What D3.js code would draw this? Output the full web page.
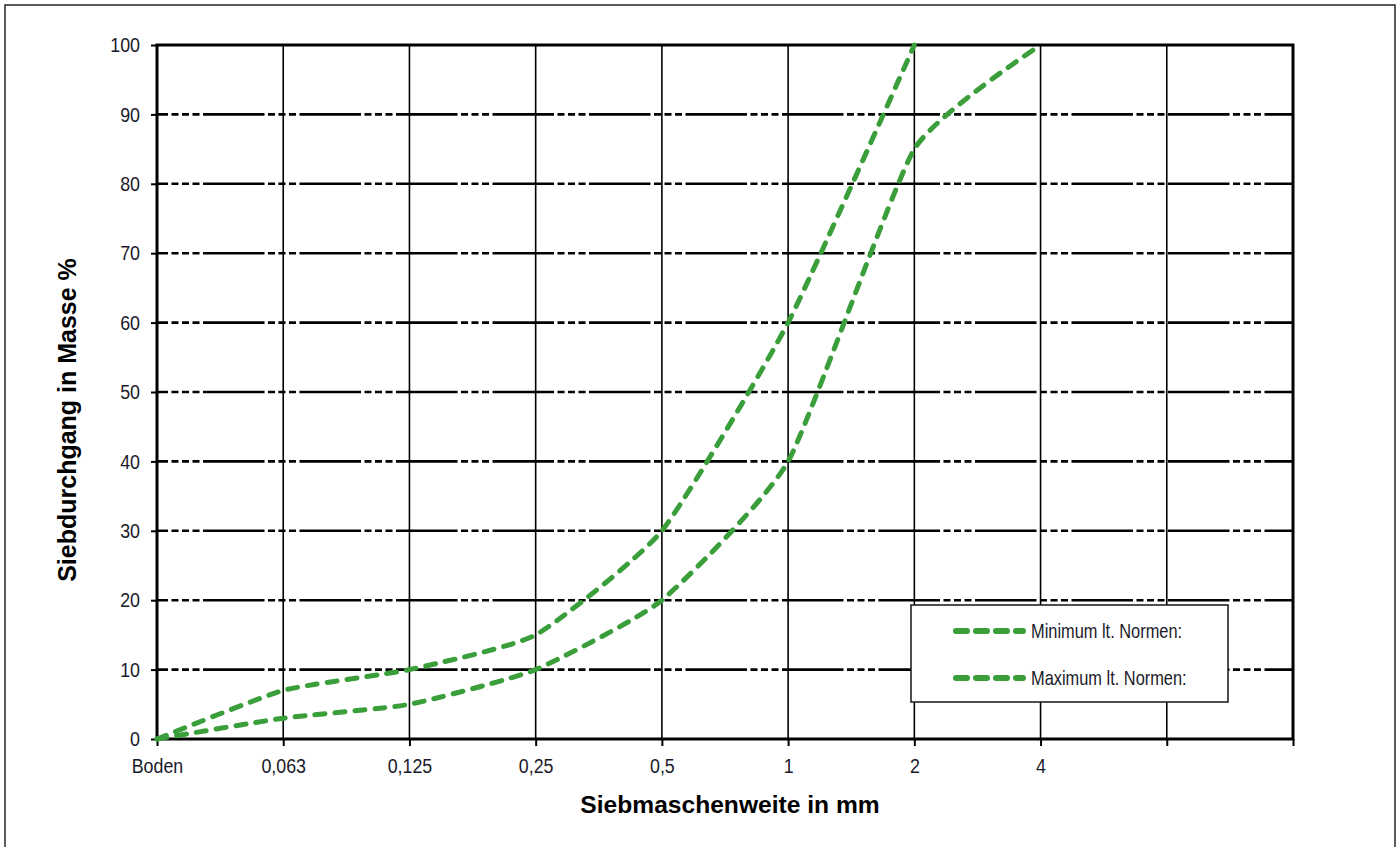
<!DOCTYPE html>
<html>
<head>
<meta charset="utf-8">
<script src="https://cdn.jsdelivr.net/npm/d3@7"></script>
<style>
  html, body { margin: 0; padding: 0; background: #fff; }
  svg { display: block; }
  .narrow { font-family: "Liberation Sans", Arial, sans-serif; }
  .bold { font-family: "Liberation Sans", Arial, sans-serif; font-weight: bold; }
</style>
</head>
<body>
<svg id="chart" width="1399" height="847"></svg>
<script>
// ---- data ----
const categories = ["Boden", "0,063", "0,125", "0,25", "0,5", "1", "2", "4", "", ""];
const minimumValues = [0, 3, 5, 10, 20, 40, 85, 100];
const maximumValues = [0, 7, 10, 15, 30, 60, 100];
const yTicks = [0, 10, 20, 30, 40, 50, 60, 70, 80, 90, 100];
const seriesNames = ["Minimum lt. Normen:", "Maximum lt. Normen:"];
const xTitle = "Siebmaschenweite in mm";
const yTitle = "Siebdurchgang in Masse %";

// ---- layout ----
const W = 1399, H = 847;
const plot = { left: 157, right: 1293, top: 45, bottom: 739 };
const green = "rgb(58,158,58)";
const tickScale = 0.85;   // condensed look of the tick labels
const legScale = 0.82;

const svg = d3.select("#chart");
svg.append("rect").attr("width", W).attr("height", H).attr("fill", "#fff");

// outer frame
svg.append("rect")
  .attr("x", 5).attr("y", 5).attr("width", 1390).attr("height", 860)
  .attr("fill", "none").attr("stroke", "#333").attr("stroke-width", 1.6);

const idx = d3.range(categories.length);
const x = d3.scalePoint().domain(idx).range([plot.left, plot.right]);
const y = d3.scaleLinear().domain([0, 100]).range([plot.bottom, plot.top]);

const g = svg.append("g");

// horizontal gridlines (dash-dot-dot)
g.selectAll("line.hgrid").data(yTicks.filter(v => v > 0 && v < 100)).join("line")
  .attr("class", "hgrid")
  .attr("x1", plot.left).attr("x2", plot.right)
  .attr("y1", d => y(d)).attr("y2", d => y(d))
  .attr("stroke", "#000").attr("stroke-width", 2.6)
  .attr("stroke-dasharray", "7,3.5,7,3.5,7,3.5,61.5,3.5")
  .attr("stroke-dashoffset", 82);

// vertical gridlines
g.selectAll("line.vgrid").data(idx.slice(1, idx.length - 1)).join("line")
  .attr("class", "vgrid")
  .attr("x1", d => x(d)).attr("x2", d => x(d))
  .attr("y1", plot.top).attr("y2", plot.bottom)
  .attr("stroke", "#000").attr("stroke-width", 1.6);

// plot border
g.append("rect")
  .attr("x", plot.left).attr("y", plot.top)
  .attr("width", plot.right - plot.left).attr("height", plot.bottom - plot.top)
  .attr("fill", "none").attr("stroke", "#000").attr("stroke-width", 3);

// y axis
const yAxis = d3.axisLeft(y).tickValues(yTicks).tickSize(6).tickPadding(10).tickFormat(d3.format("d"));
const ya = svg.append("g").attr("transform", `translate(${plot.left},0)`).call(yAxis);
ya.select(".domain").remove();
ya.selectAll(".tick line").attr("stroke", "#000").attr("stroke-width", 2);
ya.selectAll(".tick text").attr("class", "narrow").attr("font-size", 21).attr("fill", "#1a1a2a")
  .attr("x", -17 / tickScale)
  .attr("transform", `scale(${tickScale},1)`);

// x axis
const xAxis = d3.axisBottom(x).tickValues(idx).tickSize(7).tickPadding(12).tickFormat(i => categories[i]);
const xa = svg.append("g").attr("transform", `translate(0,${plot.bottom})`).call(xAxis);
xa.select(".domain").remove();
xa.selectAll(".tick line").attr("stroke", "#000").attr("stroke-width", 2);
xa.selectAll(".tick text").attr("class", "narrow").attr("font-size", 21).attr("fill", "#1a1a2a")
  .attr("transform", `scale(${tickScale},1)`);

// series lines
const line = d3.line()
  .x((d, i) => x(i))
  .y(d => y(d))
  .curve(d3.curveCardinal.tension(0.5));

[minimumValues, maximumValues].forEach(vals => {
  svg.append("path")
    .datum(vals)
    .attr("d", line)
    .attr("fill", "none")
    .attr("stroke", green)
    .attr("stroke-width", 5)
    .attr("stroke-linecap", "round")
    .attr("stroke-dasharray", "10,10");
});

// legend
const leg = svg.append("g");
leg.append("rect")
  .attr("x", 911).attr("y", 605).attr("width", 317).attr("height", 97)
  .attr("fill", "#fff").attr("stroke", "#222").attr("stroke-width", 1.6);
seriesNames.forEach((name, i) => {
  const ly = 631 + i * 47;
  leg.append("line")
    .attr("x1", 956).attr("x2", 1023)
    .attr("y1", ly).attr("y2", ly)
    .attr("stroke", green).attr("stroke-width", 6)
    .attr("stroke-linecap", "round")
    .attr("stroke-dasharray", "11,9");
  leg.append("text")
    .attr("class", "narrow")
    .attr("x", 1031 / legScale).attr("y", ly)
    .attr("dy", "0.35em")
    .attr("font-size", 20)
    .attr("fill", "#1a1a2a")
    .attr("transform", `scale(${legScale},1)`)
    .text(name);
});

// axis titles
svg.append("text")
  .attr("class", "bold")
  .attr("x", 730).attr("y", 813)
  .attr("text-anchor", "middle")
  .attr("font-size", 24.6)
  .attr("fill", "#000")
  .text(xTitle);

svg.append("text")
  .attr("class", "bold")
  .attr("transform", "translate(76,420) rotate(-90)")
  .attr("text-anchor", "middle")
  .attr("font-size", 25)
  .attr("fill", "#000")
  .text(yTitle);
</script>
</body>
</html>
